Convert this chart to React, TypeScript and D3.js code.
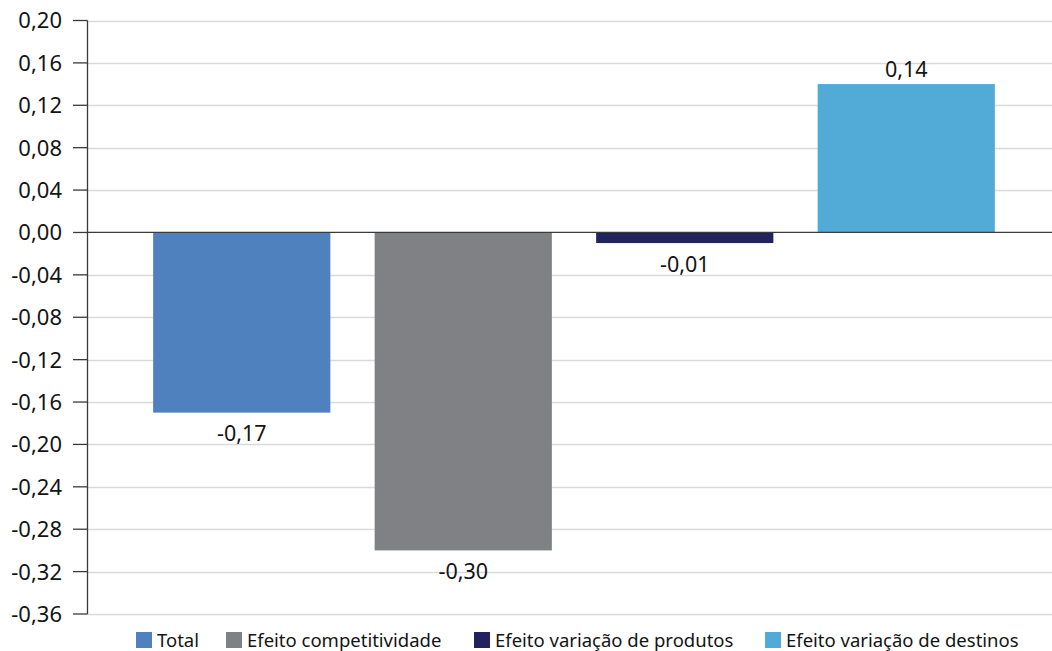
import React from "react";
import * as d3 from "d3";

const categories = [
  "Total",
  "Efeito competitividade",
  "Efeito variação de produtos",
  "Efeito variação de destinos",
];
const values = [-0.17, -0.3, -0.01, 0.14];
const colors = ["#4f81bf", "#808184", "#24215f", "#52aad6"];
const yTicks = [0.2, 0.16, 0.12, 0.08, 0.04, 0, -0.04, -0.08, -0.12, -0.16, -0.2, -0.24, -0.28, -0.32, -0.36];

const W = 1052;
const H = 651;
const axisX = 87.5;
const rightX = 1052;
const FONT = "'Noto Sans', 'Open Sans', sans-serif";
const INK = "#141414";

const fmt = (v: number) => {
  const s = Math.abs(v).toFixed(2).replace(".", ",");
  return (v < -1e-9 ? "-" : "") + s;
};

export default function App() {
  const y = d3.scaleLinear().domain([-0.36, 0.2]).range([614, 20.5]);
  const x = d3
    .scaleBand<string>()
    .domain(categories)
    .range([131, 1017])
    .paddingInner(0.2)
    .paddingOuter(0.1);

  const legendX = [136, 226, 474, 765];

  return (
    <div style={{ position: "fixed", left: 0, top: 0 }}>
      <svg width={W} height={H} style={{ display: "block", background: "#fff" }}>
        {/* gridlines */}
        {yTicks.map((t) =>
          Math.abs(t) < 1e-9 ? null : (
            <line
              key={"g" + t}
              x1={axisX}
              x2={rightX}
              y1={Math.round(y(t)) + 0.5}
              y2={Math.round(y(t)) + 0.5}
              stroke="#d9d9d9"
              strokeWidth={1.5}
            />
          )
        )}
        {/* bars */}
        {categories.map((c, i) => {
          const v = values[i];
          const y0 = y(0);
          const y1 = y(v);
          return (
            <rect
              key={c}
              x={x(c)}
              width={x.bandwidth()}
              y={Math.min(y0, y1)}
              height={Math.abs(y1 - y0)}
              fill={colors[i]}
            />
          );
        })}
        {/* zero line */}
        <line x1={axisX} x2={rightX} y1={y(0)} y2={y(0)} stroke="#3a3a3a" strokeWidth={1.3} />
        {/* y axis */}
        <line x1={axisX} x2={axisX} y1={y(0.2)} y2={y(-0.36)} stroke="#3a3a3a" strokeWidth={1.3} />
        {yTicks.map((t) => (
          <g key={"t" + t}>
            <line x1={73} x2={axisX} y1={y(t)} y2={y(t)} stroke="#3a3a3a" strokeWidth={1.3} />
            <text
              x={62}
              y={y(t)}
              dy="0.36em"
              textAnchor="end"
              fontFamily={FONT}
              fontSize={22}
              fill={INK}
            >
              {fmt(t)}
            </text>
          </g>
        ))}
        {/* value labels */}
        {categories.map((c, i) => {
          const v = values[i];
          const cx = (x(c) as number) + x.bandwidth() / 2;
          const ly = v < 0 ? y(v) + 28.5 : y(v) - 7;
          return (
            <text
              key={"l" + c}
              x={cx}
              y={ly}
              textAnchor="middle"
              fontFamily={FONT}
              fontSize={21.5}
              fill={INK}
            >
              {fmt(v)}
            </text>
          );
        })}
        {/* legend */}
        {categories.map((c, i) => (
          <g key={"lg" + c}>
            <rect x={legendX[i]} y={632} width={16} height={16} fill={colors[i]} />
            <text
              x={legendX[i] + 21}
              y={640}
              dy="0.36em"
              fontFamily={FONT}
              fontSize={18.5}
              fill={INK}
            >
              {c}
            </text>
          </g>
        ))}
      </svg>
    </div>
  );
}
